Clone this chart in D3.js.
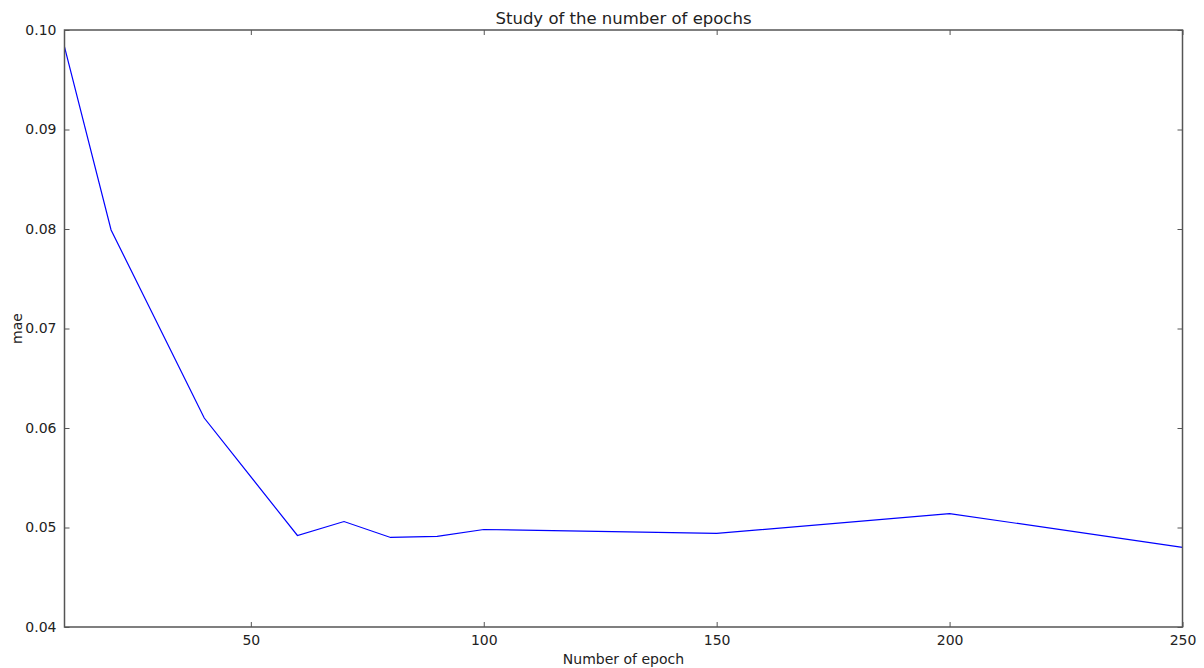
<!DOCTYPE html>
<html>
<head>
<meta charset="utf-8">
<script src="https://cdn.jsdelivr.net/npm/d3@7"></script>
<style>
  body { margin: 0; background: #fff; }
  text { font-family: "DejaVu Sans", sans-serif; fill: #222; }
</style>
</head>
<body>
<div class="chart"></div>
<script>
// data
var epochs = [10, 20, 40, 60, 70, 80, 90, 100, 150, 200, 250];
var maeValues = [0.0983, 0.0799, 0.0610, 0.0492, 0.0506, 0.0490, 0.0491, 0.0498, 0.0494, 0.0514, 0.0480];
var xTicks = [50, 100, 150, 200, 250];
var yTicks = [0.04, 0.05, 0.06, 0.07, 0.08, 0.09, 0.10];

var svgWidth = 1204;
var svgHeight = 668;

var margin = { top: 30, right: 21.5, bottom: 41, left: 64.5 };

var width = svgWidth - margin.left - margin.right;
var height = svgHeight - margin.top - margin.bottom;

var svg = d3.select(".chart")
  .append("svg")
  .attr("width", svgWidth)
  .attr("height", svgHeight);

var chartGroup = svg.append("g")
  .attr("transform", `translate(${margin.left}, ${margin.top})`);

var xScale = d3.scaleLinear().domain([10, 250]).range([0, width]);
var yScale = d3.scaleLinear().domain([0.04, 0.10]).range([height, 0]);

// inward ticks on all four sides, matplotlib classic style
var tickLen = 5;

var bottomAxis = d3.axisBottom(xScale).tickValues(xTicks).tickFormat(d3.format("d"))
  .tickSizeInner(-tickLen).tickSizeOuter(0).tickPadding(8);
var topAxis = d3.axisTop(xScale).tickValues(xTicks).tickFormat("")
  .tickSizeInner(-tickLen).tickSizeOuter(0);
var leftAxis = d3.axisLeft(yScale).tickValues(yTicks).tickFormat(d3.format(".2f"))
  .tickSizeInner(-tickLen).tickSizeOuter(0).tickPadding(8);
var rightAxis = d3.axisRight(yScale).tickValues(yTicks).tickFormat("")
  .tickSizeInner(-tickLen).tickSizeOuter(0);

chartGroup.append("g").attr("transform", `translate(0, ${height})`).call(bottomAxis);
chartGroup.append("g").call(topAxis);
chartGroup.append("g").call(leftAxis);
chartGroup.append("g").attr("transform", `translate(${width}, 0)`).call(rightAxis);

chartGroup.selectAll(".tick line").attr("stroke", "#555");
chartGroup.selectAll(".domain").remove();
chartGroup.selectAll(".tick text")
  .style("font-family", "DejaVu Sans, sans-serif")
  .style("font-size", "14px")
  .attr("fill", "#222");

// the line
var line = d3.line()
  .x((d, i) => xScale(epochs[i]))
  .y(d => yScale(d));

chartGroup.append("path")
  .datum(maeValues)
  .attr("fill", "none")
  .attr("stroke", "#0000ff")
  .attr("stroke-width", 1.2)
  .attr("d", line);

// frame
chartGroup.append("rect")
  .attr("width", width)
  .attr("height", height)
  .attr("fill", "none")
  .attr("stroke", "#555")
  .attr("stroke-width", 1.5);

// labels
svg.append("text")
  .attr("x", margin.left + width / 2)
  .attr("y", 24)
  .attr("text-anchor", "middle")
  .style("font-size", "16.5px")
  .text("Study of the number of epochs");

svg.append("text")
  .attr("x", margin.left + width / 2)
  .attr("y", 664)
  .attr("text-anchor", "middle")
  .style("font-size", "14px")
  .text("Number of epoch");

svg.append("text")
  .attr("transform", `translate(22, ${margin.top + height / 2}) rotate(-90)`)
  .attr("text-anchor", "middle")
  .style("font-size", "14px")
  .text("mae");
</script>
</body>
</html>
